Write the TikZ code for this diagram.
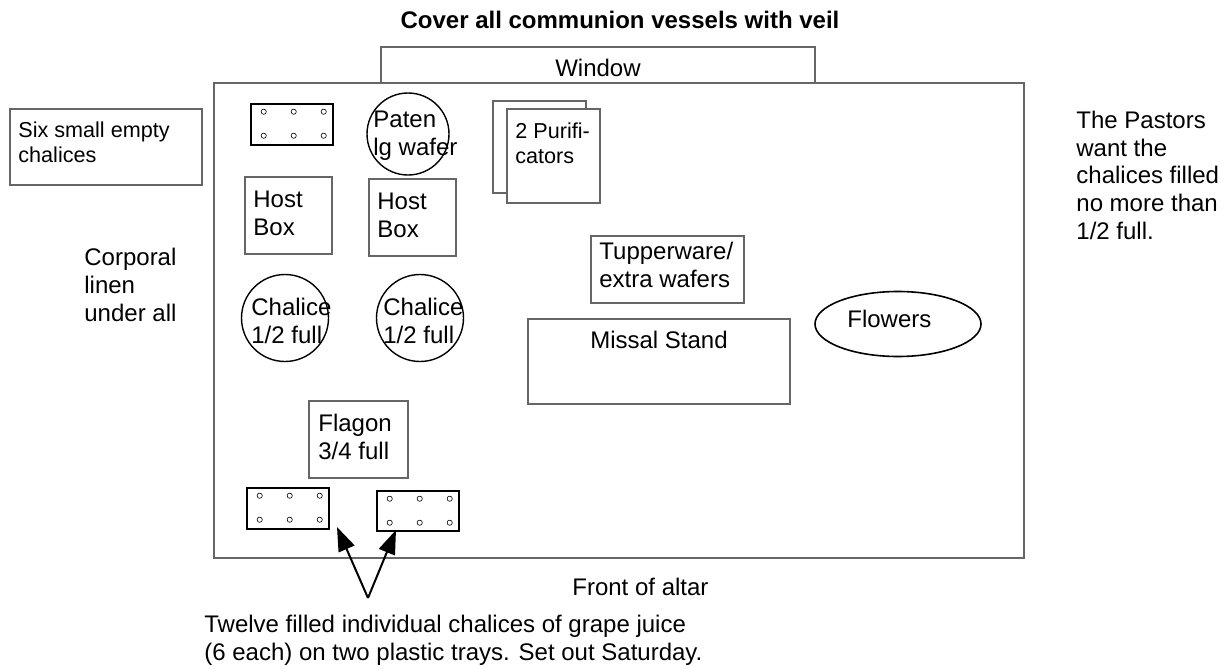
\documentclass[tikz,border=0pt]{standalone}
\usepackage{fontspec}
\setmainfont{Liberation Sans}[Ligatures=NoCommon]
\usetikzlibrary{fit,calc,arrows.meta,shapes.geometric}
\begin{document}
\begin{tikzpicture}[x=0.5pt,y=-0.5pt,
  box/.style={draw=black!60, line width=0.55pt, inner sep=0pt},
  tray/.style={draw=black, line width=1.3pt, inner sep=0pt},
  ring/.style={circle, draw=black, line width=0.7pt, inner sep=0pt},
  txt/.style={anchor=base west, inner sep=0pt, align=left, font=\fontsize{12}{13.8}\selectfont},
  small/.style={anchor=base west, inner sep=0pt, align=left, font=\fontsize{10.8}{12.4}\selectfont},
  arr/.style={-{Triangle[length=12pt,width=8.5pt]}, line width=1pt}]

\useasboundingbox (0,0) rectangle (1227,669);

% title
\node[anchor=base, inner sep=0pt, font=\fontsize{12}{14}\selectfont\bfseries] (title) at (620,28) {Cover all communion vessels with veil};

% altar and window
\node[box, fit={(214,83) (1024,558)}] (altar) {};
\node[box, fit={(381,47) (815,83)}] (window) {};
\node[anchor=base, inner sep=0pt, font=\fontsize{12}{14}\selectfont] (windowtxt) at (598,76) {Window};

% left box (anchors give the baseline of the last line)
\node[box, fit={(10,109) (202,185)}] (sixbox) {};
\node[small] (sixtxt) at (18,162) {Six small empty\\chalices};

% corporal
\node[txt] (corporal) at (84,321) {Corporal\\linen\\under all};

% right note
\node[txt] (pastors) at (1076,239) {The Pastors\\want the\\chalices filled\\no more than\\1/2 full.};

% top tray
\node[tray, fit={(251,104) (333,145)}] (trayT) {};
\foreach \dx in {14,44,74}{\foreach \dy in {9,33}{
  \draw[line width=0.3pt] ($(trayT.north west)+(\dx,\dy)$) circle[radius=1.3pt];}}

% paten
\node[ring, minimum size=41pt] (paten) at (408,134) {};
\node[txt] (patentxt) at (373,155) {Paten\\lg wafer};

% purificators
\node[box, fit={(493,101) (586,193)}] (purB) {};
\node[box, fill=white, fit={(507,109) (600,203)}] (purF) {};
\node[small] (purtxt) at (515,163) {2 Purifi-\\cators};

% host boxes
\node[box, fit={(245,177) (332,254)}] (hostA) {};
\node[txt] (hostAtxt) at (253,235) {Host\\Box};
\node[box, fit={(369,179) (456,256)}] (hostB) {};
\node[txt] (hostBtxt) at (377,237) {Host\\Box};

% chalices
\node[ring, minimum size=43.5pt] (chalA) at (285,318) {};
\node[txt] (chalAtxt) at (251,343) {Chalice\\1/2 full};
\node[ring, minimum size=43.5pt] (chalB) at (420,318) {};
\node[txt] (chalBtxt) at (383,343) {Chalice\\1/2 full};

% tupperware
\node[box, fit={(591,236) (744,303)}] (tupper) {};
\node[txt] (tuppertxt) at (599,287) {Tupperware/\\extra wafers};

% missal stand
\node[box, fit={(528,319) (790,404)}] (missal) {};
\node[anchor=base, inner sep=0pt, font=\fontsize{12}{14}\selectfont] (missaltxt) at (659,348) {Missal Stand};

% flowers
\node[ellipse, draw=black, line width=0.8pt, minimum width=83pt, minimum height=32.5pt, inner sep=0pt] (flowers) at (898,324) {};
\node[txt] (flowerstxt) at (847,327) {Flowers};

% flagon
\node[box, fit={(309,401) (408,478)}] (flagon) {};
\node[txt] (flagontxt) at (318,459) {Flagon\\3/4 full};

% bottom trays
\node[tray, fit={(247,488) (329,529)}] (trayA) {};
\node[tray, fit={(377,491) (459,531)}] (trayB) {};
\foreach \t in {trayA,trayB}{
 \foreach \dx in {14,44,74}{\foreach \dy in {9,33}{
  \draw[line width=0.3pt] ($(\t.north west)+(\dx,\dy)$) circle[radius=1.3pt];}}}

% arrows
\coordinate (apex) at (368,598);
\coordinate (tipA) at (337,527);
\coordinate (tipB) at (396,530);
\draw[arr] (apex) -- (tipA);
\draw[arr] (apex) -- (tipB);

% bottom texts
\node[anchor=base west, inner sep=0pt, font=\fontsize{12}{14}\selectfont] (front) at (572,595) {Front of altar};
\node[txt] (twelve) at (204,660) {Twelve filled individual chalices of grape juice\\(6 each) on two plastic trays. Set out Saturday.};
\end{tikzpicture}
\end{document}
